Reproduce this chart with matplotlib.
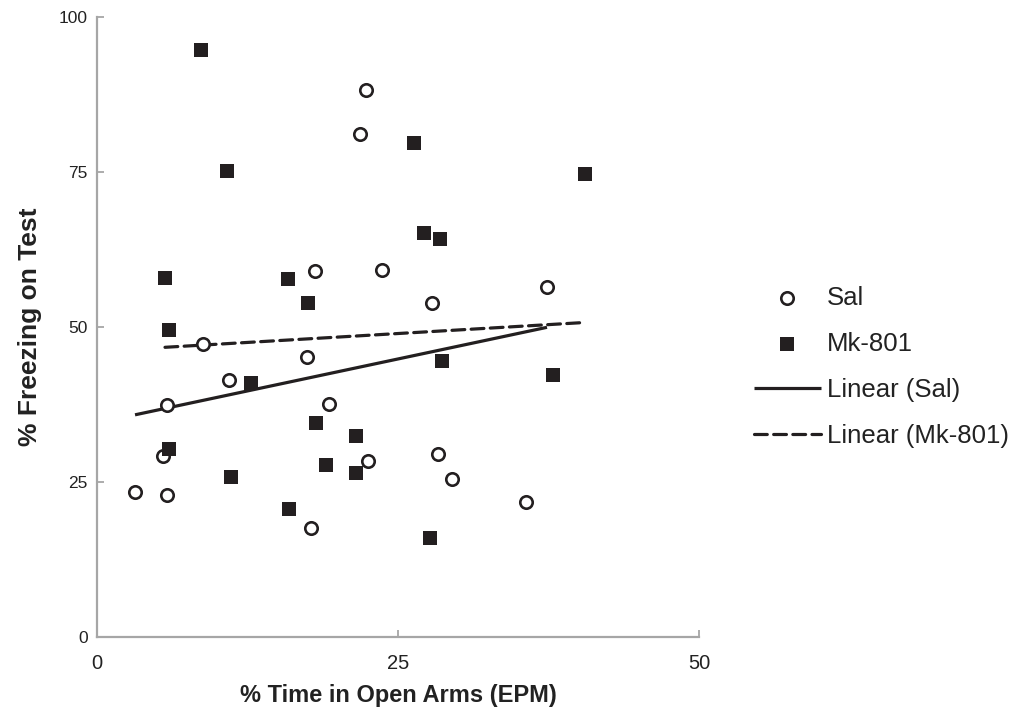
import numpy as np
import matplotlib
matplotlib.use('Agg')
import matplotlib.pyplot as plt

plt.rcParams['font.family'] = ['Liberation Sans', 'DejaVu Sans']

# % time in open arms (EPM) vs % freezing on test
sal_x = [3.16, 5.48, 5.81, 5.81, 8.80, 10.96, 17.44, 17.77, 18.11, 19.27,
         21.84, 22.34, 22.51, 23.67, 27.82, 28.32, 29.49, 35.63, 37.38]
sal_y = [23.4, 29.2, 22.9, 37.4, 47.3, 41.5, 45.2, 17.6, 59.0, 37.6,
         81.1, 88.2, 28.4, 59.2, 53.9, 29.5, 25.5, 21.8, 56.5]

mk_x = [8.64, 10.80, 5.65, 15.86, 5.98, 5.98, 11.13, 12.79, 17.52, 15.95, 18.19,
        19.02, 21.51, 21.51, 26.33, 27.16, 28.49, 27.66, 28.65, 37.87, 40.53]
mk_y = [94.7, 75.2, 57.9, 57.7, 49.5, 30.3, 25.8, 41.0, 53.9, 20.6, 34.5,
        27.7, 32.4, 26.5, 79.7, 65.2, 64.2, 16.0, 44.5, 42.3, 74.7]

ticks = [0, 25, 50]
yticks = [0, 25, 50, 75, 100]

ink = '#231f20'
axis_gray = '#a6a6a6'

fig = plt.figure(figsize=(10.22, 7.13), dpi=100)
ax = fig.add_axes([0.0949, 0.1066, 0.589, 0.8696])

ax.scatter(sal_x, sal_y, s=80, facecolors='white', edgecolors=ink,
           linewidths=1.9, marker='o', label='Sal', zorder=3)
ax.scatter(mk_x, mk_y, s=105, color=ink, marker='s', linewidths=0,
           label='Mk-801', zorder=3)

# least-squares trendlines over each group's x range
for xs, ys, ls, name in [(sal_x, sal_y, '-', 'Linear (Sal)'),
                         (mk_x, mk_y, (0, (4, 2)), 'Linear (Mk-801)')]:
    xs = np.array(xs)
    m, b = np.polyfit(xs, np.array(ys), 1)
    xx = np.array([xs.min(), xs.max()])
    ax.plot(xx, m * xx + b, color=ink, lw=2.3, linestyle=ls, label=name,
            zorder=2, dash_capstyle='round', solid_capstyle='butt')

ax.set_xlim(0, 50)
ax.set_ylim(0, 100)
ax.set_xticks(ticks)
ax.set_yticks(yticks)

for side in ['top', 'right']:
    ax.spines[side].set_visible(False)
for side in ['left', 'bottom']:
    ax.spines[side].set_color(axis_gray)
    ax.spines[side].set_linewidth(1.6)
ax.tick_params(direction='in', length=5, width=1.3, color=axis_gray,
               labelcolor='#222222')
ax.tick_params(axis='x', labelsize=14.5, pad=12)
ax.tick_params(axis='y', labelsize=12.5, pad=6.5)

ax.set_xlabel('% Time in Open Arms (EPM)', fontsize=17, fontweight='bold',
              color='#222222', labelpad=8)
ax.set_ylabel('% Freezing on Test', fontsize=19, fontweight='bold',
              color='#222222', labelpad=12)

leg = ax.legend(loc='center left', bbox_to_anchor=(0.725, 0.485),
                bbox_transform=fig.transFigure, frameon=False, fontsize=18.5,
                handlelength=2.6, handletextpad=0.25, labelspacing=0.86,
                borderpad=0)
for t in leg.get_texts():
    t.set_color('#222222')

fig.savefig('out.png', dpi=100)
